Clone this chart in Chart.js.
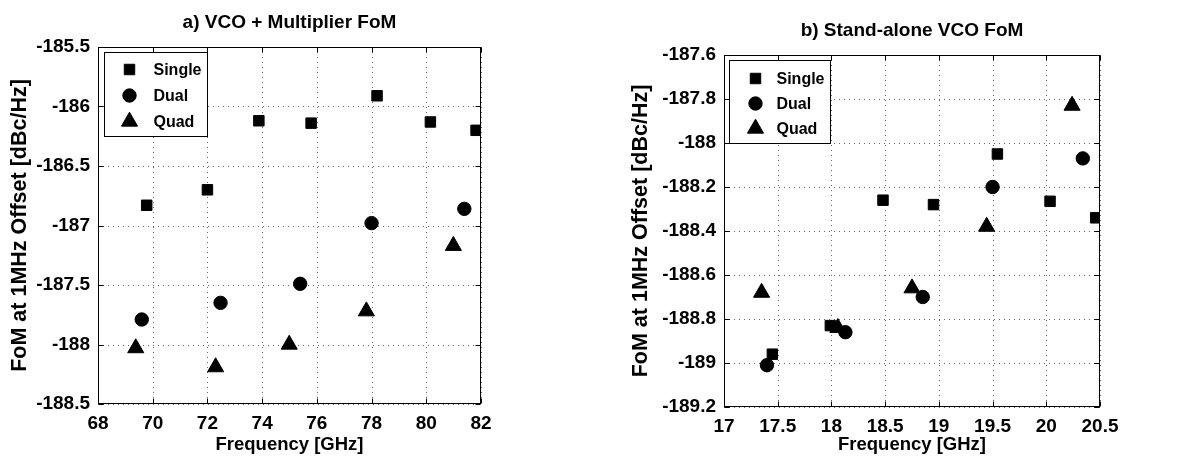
<!DOCTYPE html>
<html>
<head>
<meta charset="utf-8">
<script src="https://cdn.jsdelivr.net/npm/chart.js@4.4.1/dist/chart.umd.min.js"></script>
<style>
  html, body { margin: 0; padding: 0; background: #fff; }
  body { width: 1201px; height: 461px; overflow: hidden; position: relative; }
  .box { position: absolute; top: 0; height: 461px; }
  #boxA { left: 0; width: 600px; }
  #boxB { left: 600px; width: 601px; }
</style>
</head>
<body>
<div class="box" id="boxA"><canvas id="chartA"></canvas></div>
<div class="box" id="boxB"><canvas id="chartB"></canvas></div>
<script>
// ---------------- data ----------------
const seriesNames = ['Single', 'Dual', 'Quad'];

const titleA = 'a) VCO + Multiplier FoM';
const titleB = 'b) Stand-alone VCO FoM';
const xTitle = 'Frequency [GHz]';
const yTitle = 'FoM at 1MHz Offset [dBc/Hz]';

// chart a) VCO + Multiplier
const aSingleX = [69.78, 72.0, 73.88, 75.79, 78.2, 80.15, 81.82];
const aSingleY = [-186.83, -186.70, -186.12, -186.14, -185.91, -186.13, -186.20];
const aDualX = [69.6, 72.48, 75.39, 78.0, 81.39];
const aDualY = [-187.79, -187.65, -187.49, -186.98, -186.86];
const aQuadX = [69.38, 72.3, 74.99, 77.81, 80.99];
const aQuadY = [-188.03, -188.19, -188.0, -187.72, -187.17];

const aXTicks = [68, 70, 72, 74, 76, 78, 80, 82];
const aXTickLabels = ['68', '70', '72', '74', '76', '78', '80', '82'];
const aYTicks = [-185.5, -186, -186.5, -187, -187.5, -188, -188.5];
const aYTickLabels = ['-185.5', '-186', '-186.5', '-187', '-187.5', '-188', '-188.5'];

// chart b) Stand-alone VCO
const bSingleX = [17.45, 17.99, 18.48, 18.95, 19.545, 20.035, 20.46];
const bSingleY = [-188.96, -188.83, -188.26, -188.28, -188.05, -188.265, -188.34];
const bDualX = [17.40, 18.13, 18.85, 19.50, 20.34];
const bDualY = [-189.01, -188.86, -188.70, -188.20, -188.07];
const bQuadX = [17.35, 18.06, 18.75, 19.445, 20.24];
const bQuadY = [-188.68, -188.84, -188.66, -188.38, -187.83];

const bXTicks = [17, 17.5, 18, 18.5, 19, 19.5, 20, 20.5];
const bXTickLabels = ['17', '17.5', '18', '18.5', '19', '19.5', '20', '20.5'];
const bYTicks = [-187.6, -187.8, -188, -188.2, -188.4, -188.6, -188.8, -189, -189.2];
const bYTickLabels = ['-187.6', '-187.8', '-188', '-188.2', '-188.4', '-188.6', '-188.8', '-189', '-189.2'];

// ---------------- helpers ----------------
const FONT = '"Liberation Sans", Arial, sans-serif';
const pts = (xs, ys) => xs.map((x, i) => ({ x: x, y: ys[i] }));

const markerStyle = [
  { pointStyle: 'rect', radius: 7.4 },
  { pointStyle: 'circle', radius: 6.7 },
  { pointStyle: 'triangle', radius: 9.3 }
];

function makeDatasets(seriesXY) {
  return seriesXY.map((s, i) => ({
    label: seriesNames[i],
    data: pts(s[0], s[1]),
    pointStyle: markerStyle[i].pointStyle,
    pointRadius: markerStyle[i].radius,
    pointHoverRadius: markerStyle[i].radius,
    pointBackgroundColor: '#000',
    pointBorderColor: '#000',
    pointBorderWidth: 1,
    showLine: false,
    clip: 0
  }));
}

// dotted grid drawn along the library's own tick positions
const gridPlugin = {
  id: 'dotGrid',
  beforeDatasetsDraw(chart) {
    const ctx = chart.ctx;
    const a = chart.chartArea;
    const xs = chart.scales.x, ys = chart.scales.y;
    ctx.save();
    ctx.strokeStyle = 'rgba(0,0,0,0.6)';
    ctx.lineWidth = 1;
    ctx.setLineDash([1, 4]);
    ctx.beginPath();
    xs.ticks.forEach(t => {
      const px = Math.round(xs.getPixelForValue(t.value)) + 0.5;
      ctx.moveTo(px, a.top); ctx.lineTo(px, a.bottom);
    });
    ys.ticks.forEach(t => {
      const py = Math.round(ys.getPixelForValue(t.value)) + 0.5;
      ctx.moveTo(a.left, py); ctx.lineTo(a.right, py);
    });
    ctx.stroke();
    ctx.restore();
  }
};

const framePlugin = {
  id: 'frame',
  afterDatasetsDraw(chart, args, opts) {
    const ctx = chart.ctx;
    const a = chart.chartArea;
    const xs = chart.scales.x, ys = chart.scales.y;
    const L = Math.round(a.left) + 0.5, R = Math.round(a.right) - 0.5;
    const T = Math.round(a.top) + 0.5, B = Math.round(a.bottom) - 0.5;
    ctx.save();
    ctx.strokeStyle = '#000';
    ctx.lineWidth = 1;
    ctx.setLineDash([]);
    ctx.strokeRect(L, T, R - L, B - T);
    // inward tick marks on all four sides
    const tl = 5;
    ctx.beginPath();
    xs.ticks.forEach(t => {
      const px = Math.round(xs.getPixelForValue(t.value)) + 0.5;
      ctx.moveTo(px, B); ctx.lineTo(px, B - tl);
      ctx.moveTo(px, T); ctx.lineTo(px, T + tl);
    });
    ys.ticks.forEach(t => {
      const py = Math.round(ys.getPixelForValue(t.value)) + 0.5;
      ctx.moveTo(L, py); ctx.lineTo(L + tl, py);
      ctx.moveTo(R, py); ctx.lineTo(R - tl, py);
    });
    ctx.stroke();

    // legend box inside the plot, top-left
    const lg = opts;
    const bx = Math.round(a.left + lg.dx) + 0.5, by = Math.round(a.top + lg.dy) + 0.5;
    ctx.fillStyle = '#fff';
    ctx.fillRect(bx, by, lg.w, lg.h);
    ctx.strokeRect(bx, by, lg.w, lg.h);
    ctx.font = 'bold 16px ' + FONT;
    ctx.textBaseline = 'middle';
    ctx.textAlign = 'left';
    chart.data.datasets.forEach((ds, i) => {
      const cy = by + lg.row0 + i * lg.rowGap;
      ctx.fillStyle = '#000';
      ctx.strokeStyle = '#000';
      ctx.lineWidth = 1;
      Chart.helpers.drawPoint(ctx, {
        pointStyle: ds.pointStyle, radius: ds.pointRadius, rotation: 0, borderWidth: 1
      }, bx + lg.markX, cy);
      ctx.fillStyle = '#000';
      ctx.fillText(ds.label, bx + lg.textX, cy + 1);
    });
    ctx.restore();
  }
};

function makeChart(canvasId, cfg) {
  const fixTicks = (vals) => (scale) => { scale.ticks = vals.map(v => ({ value: v })); };
  const gridOpts = { display: false, drawTicks: false, tickLength: 0 };
  const borderOpts = { display: false };
  return new Chart(document.getElementById(canvasId), {
    type: 'scatter',
    data: { datasets: makeDatasets(cfg.series) },
    plugins: [gridPlugin, framePlugin],
    options: {
      responsive: true,
      maintainAspectRatio: false,
      animation: false,
      devicePixelRatio: 1,
      events: [],
      layout: { padding: cfg.padding },
      plugins: {
        legend: { display: false },
        tooltip: { enabled: false },
        title: {
          display: true,
          text: cfg.title,
          fullSize: false,
          color: '#000',
          font: { family: FONT, size: 19, weight: 'bold' },
          padding: cfg.titlePadding
        },
        frame: cfg.legend
      },
      scales: {
        x: {
          type: 'linear',
          min: cfg.xTicks[0],
          max: cfg.xTicks[cfg.xTicks.length - 1],
          afterBuildTicks: fixTicks(cfg.xTicks),
          afterFit: (s) => { s.height = cfg.xHeight; },
          border: borderOpts,
          grid: gridOpts,
          ticks: {
            color: '#000',
            padding: 8,
            maxRotation: 0,
            autoSkip: false,
            font: { family: FONT, size: 19, weight: 'bold' },
            callback: (v, i) => cfg.xTickLabels[i]
          },
          title: {
            display: true,
            text: xTitle,
            color: '#000',
            padding: 0,
            font: { family: FONT, size: 18.5, weight: 'bold' }
          }
        },
        y: {
          type: 'linear',
          min: cfg.yTicks[cfg.yTicks.length - 1],
          max: cfg.yTicks[0],
          afterBuildTicks: fixTicks(cfg.yTicks.slice().reverse()),
          afterFit: (s) => { s.width = cfg.yWidth; },
          border: borderOpts,
          grid: gridOpts,
          ticks: {
            color: '#000',
            padding: 8,
            autoSkip: false,
            font: { family: FONT, size: 19, weight: 'bold' },
            callback: (v, i) => cfg.yTickLabels[cfg.yTickLabels.length - 1 - i]
          },
          title: {
            display: true,
            text: yTitle,
            color: '#000',
            padding: 0,
            font: { family: FONT, size: 21.5, weight: 'bold' }
          }
        }
      }
    }
  });
}

makeChart('chartA', {
  series: [[aSingleX, aSingleY], [aDualX, aDualY], [aQuadX, aQuadY]],
  title: titleA,
  titlePadding: { top: 11, bottom: 13.2 },
  padding: { left: 7, right: 119, top: 0, bottom: 5 },
  yWidth: 91,
  xHeight: 52,
  xTicks: aXTicks, xTickLabels: aXTickLabels,
  yTicks: aYTicks, yTickLabels: aYTickLabels,
  legend: { dx: 6, dy: 5, w: 103, h: 84, row0: 17, rowGap: 26, markX: 25, textX: 49 }
});

makeChart('chartB', {
  series: [[bSingleX, bSingleY], [bDualX, bDualY], [bQuadX, bQuadY]],
  title: titleB,
  titlePadding: { top: 19, bottom: 13.2 },
  padding: { left: 28, right: 101, top: 0, bottom: 5 },
  yWidth: 96,
  xHeight: 49,
  xTicks: bXTicks, xTickLabels: bXTickLabels,
  yTicks: bYTicks, yTickLabels: bYTickLabels,
  legend: { dx: 5, dy: 5, w: 101, h: 83, row0: 18, rowGap: 25, markX: 26, textX: 47 }
});
</script>
</body>
</html>
